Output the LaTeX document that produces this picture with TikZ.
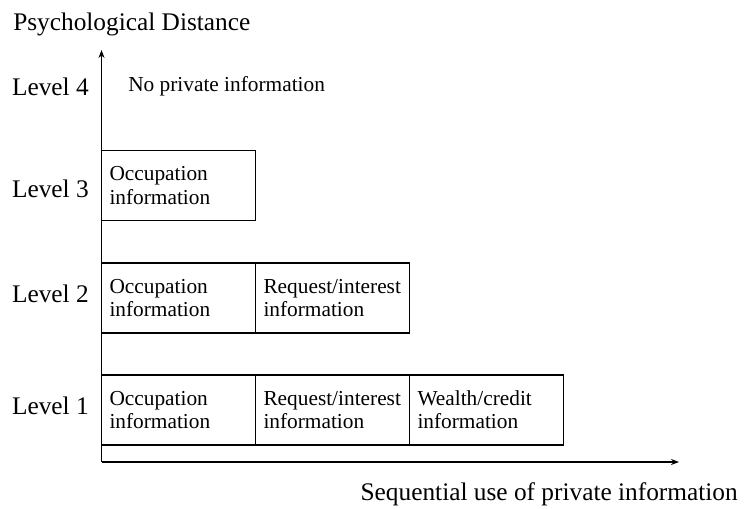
\documentclass[tikz,border=0pt]{standalone}
\usepackage{fontspec}
\setmainfont{Liberation Serif}
\usetikzlibrary{arrows.meta,positioning}

\tikzset{
  levelbox/.style={draw, line width=0.8pt, rectangle, outer sep=0pt, minimum width=115.5pt, minimum height=52.5pt, text width=103.5pt, inner xsep=6pt, align=left, font=\fontsize{16}{17.5}\selectfont},
  biglabel/.style={inner sep=0pt, font=\fontsize{19}{22}\selectfont},
  smalllabel/.style={inner sep=0pt, font=\fontsize{16}{19}\selectfont},
  axisline/.style={line width=0.8pt, -{Stealth[length=6pt,width=4.5pt]}}
}

\begin{document}
\begin{tikzpicture}[x=0.75pt,y=0.75pt,yscale=-1,xscale=1]
\useasboundingbox (0,0) rectangle (745,508);

% Axes
\coordinate (origin) at (101.5,462);
\coordinate (ytip) at (101.5,50);
\coordinate (xtip) at (679,462);
\draw [axisline] (origin) -- (ytip);
\draw [axisline] (origin) -- (xtip);

% Axis titles
\node [biglabel, anchor=base west] (ytitle) at (13,30) {Psychological Distance};
\node [biglabel, anchor=base east] (xtitle) at (738,500) {Sequential use of private information};

% Level names
\node [biglabel, anchor=base east] (lvlfour) at (89,95) {Level 4};
\node [biglabel, anchor=base east] (lvlthree) at (89,197) {Level 3};
\node [biglabel, anchor=base east] (lvltwo) at (89,302) {Level 2};
\node [biglabel, anchor=base east] (lvlone) at (89,414) {Level 1};

% Level 4
\node [smalllabel, anchor=base west] (noinfo) at (128,91) {No private information};

% Level 3
\node [levelbox] (occthree) at (178.5,185.5) {Occupation\\information};

% Level 2
\node [levelbox] (occtwo) at (178.5,298) {Occupation\\information};
\node [levelbox, right=0pt of occtwo] (reqtwo) {Request/interest\\information};

% Level 1
\node [levelbox] (occone) at (178.5,410) {Occupation\\information};
\node [levelbox, right=0pt of occone] (reqone) {Request/interest\\information};
\node [levelbox, right=0pt of reqone] (wealthone) {Wealth/credit\\information};

\end{tikzpicture}
\end{document}
